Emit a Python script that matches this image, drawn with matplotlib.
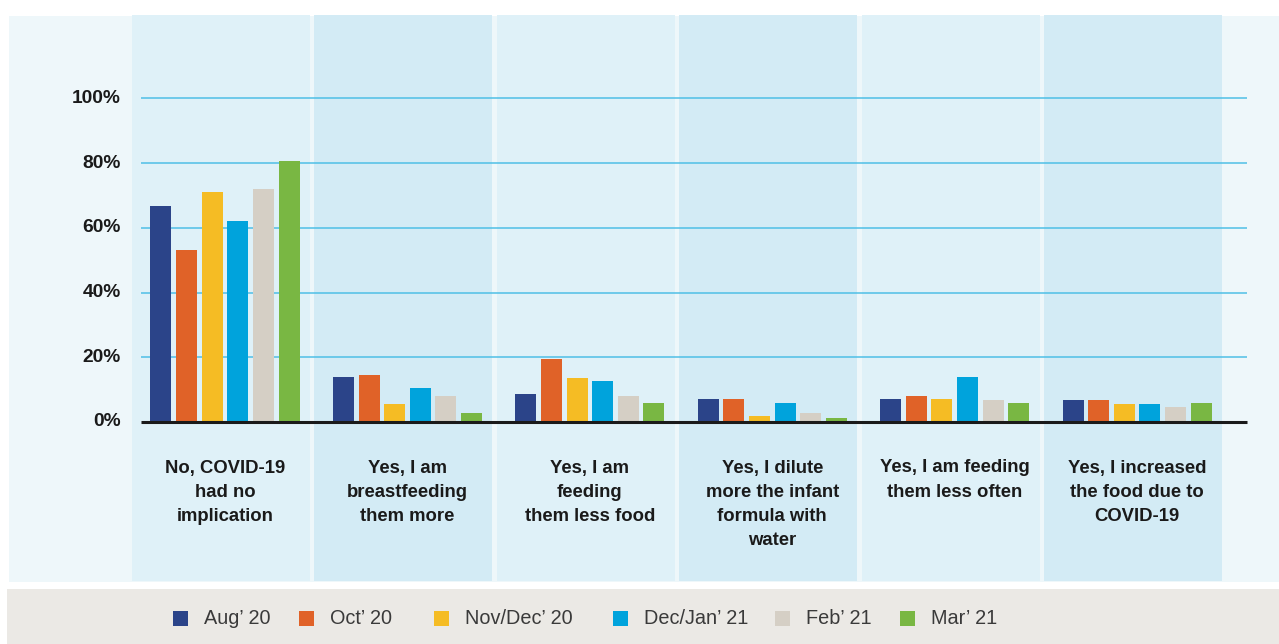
import matplotlib
matplotlib.use("Agg")
import matplotlib.pyplot as plt
from matplotlib.patches import Rectangle
import numpy as np

categories = [
    "No, COVID-19\nhad no\nimplication",
    "Yes, I am\nbreastfeeding\nthem more",
    "Yes, I am\nfeeding\nthem less food",
    "Yes, I dilute\nmore the infant\nformula with\nwater",
    "Yes, I am feeding\nthem less often",
    "Yes, I increased\nthe food due to\nCOVID-19",
]
series_names = ["Aug\u2019 20", "Oct\u2019 20", "Nov/Dec\u2019 20", "Dec/Jan\u2019 21", "Feb\u2019 21", "Mar\u2019 21"]
aug_20 = [66.8, 13.9, 8.7, 7.1, 7.1, 6.8]
oct_20 = [53.2, 14.5, 19.5, 7.1, 8.0, 6.8]
novdec_20 = [71.1, 5.6, 13.6, 1.9, 7.1, 5.6]
decjan_21 = [62.2, 10.5, 12.7, 5.9, 13.9, 5.6]
feb_21 = [72.0, 8.0, 8.0, 2.8, 6.8, 4.6]
mar_21 = [80.7, 2.8, 5.9, 1.2, 5.9, 5.9]
yticks = [0, 20, 40, 60, 80, 100]
ytick_labels = ["0%", "20%", "40%", "60%", "80%", "100%"]

series = [aug_20, oct_20, novdec_20, decjan_21, feb_21, mar_21]
colors = ["#2b4489", "#e06228", "#f5bc24", "#00a3dc", "#d5cfc5", "#79b743"]

W, H = 1279, 644
fig = plt.figure(figsize=(W / 100, H / 100), dpi=100)
fig.patch.set_facecolor("white")
ax = fig.add_axes([0, 0, 1, 1])
ax.set_axis_off()

# pixel <-> data mapping
X0, XU = 225.0, 182.4      # pixel of category 0 centre, pixels per category
Y0, YU = 422.0, 3.237      # pixel of 0%, pixels per percent
ax.set_xlim(-X0 / XU, (W - X0) / XU)
ax.set_ylim((Y0 - H) / YU, Y0 / YU)

def px(p):
    return (p - X0) / XU

def py(p):
    return (Y0 - p) / YU

# outer panel
ax.add_patch(Rectangle((px(9), py(582)), px(1279) - px(9), py(16) - py(582),
                       facecolor="#eef7fa", edgecolor="none", zorder=0))
# legend strip
ax.add_patch(Rectangle((px(7), py(644)), px(1279) - px(7), py(589) - py(644),
                       facecolor="#ebe9e5", edgecolor="none", zorder=0))

# column backgrounds
n = len(categories)
col_w = 178 / XU
for i in range(n):
    left = i + (132 - X0) / XU
    ax.add_patch(Rectangle((left, py(581)), col_w, py(15) - py(581),
                           facecolor="#dff1f8" if i % 2 == 0 else "#d3ebf5",
                           edgecolor="none", zorder=0.5))

# gridlines
gx0, gx1 = px(141), px(1247)
for t in yticks[1:]:
    ax.plot([gx0, gx1], [t, t], color="#4fbfe6", lw=1.1, zorder=1, solid_capstyle="butt")
ax.plot([gx0, gx1], [0, 0], color="#1a1a1a", lw=2.2, zorder=4, solid_capstyle="butt")

# bars
x = np.arange(n)
pitch = 25.6 / XU
bw = 21 / XU
for k, (vals, col) in enumerate(zip(series, colors)):
    ax.bar(x + (k - 2.5) * pitch, vals, width=bw, color=col, zorder=3)

bold = ["Liberation Sans", "DejaVu Sans"]
# y tick labels
for t, lab in zip(yticks, ytick_labels):
    ax.text(px(121), t, lab, ha="right", va="center", fontsize=13.8,
            fontweight="bold", family=bold, color="#1a1a1a", zorder=5)

# category labels
for i, lab in enumerate(categories):
    ax.text(i, py(459.5), lab, ha="center", va="top", fontsize=13.3, fontweight="bold",
            family=bold, color="#1a1a1a", linespacing=1.54, zorder=5)

# legend
sq_x = [173, 299, 434, 613, 775, 900]
for name, col, sx in zip(series_names, colors, sq_x):
    ax.add_patch(Rectangle((px(sx), py(626)), 15 / XU, py(611) - py(626),
                           facecolor=col, edgecolor="none", zorder=5))
    ax.text(px(sx + 31), py(619), name, ha="left", va="center", fontsize=14.3,
            family=["Liberation Sans", "DejaVu Sans"], color="#3a3a3a", zorder=5)

fig.savefig("out.png", dpi=100, facecolor="white")
